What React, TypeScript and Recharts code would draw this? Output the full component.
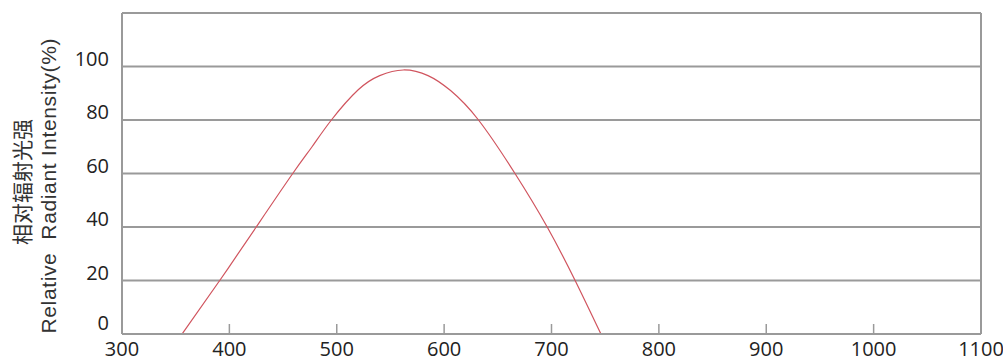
import React from "react";
import { LineChart, Line, XAxis, YAxis, CartesianGrid, ReferenceLine } from "recharts";

// spectrum: wavelength (nm) -> relative intensity (%)
const wavelengths = [356, 391, 425, 459, 477, 495, 520, 540, 562, 585, 606, 632, 666, 696, 722, 746];
const intensity = [0, 20, 40, 60, 70, 80, 91.3, 96.6, 98.7, 96.6, 91, 80, 60, 40, 20, 0];

const xTicks = [300, 400, 500, 600, 700, 800, 900, 1000, 1100];
const yTicks = [0, 20, 40, 60, 80, 100, 120];

const data = wavelengths.map((w, i) => ({ w, v: intensity[i] }));

const GRID = "#9a9a9a";
const DIGITS = "'Open Sans', 'DejaVu Sans', sans-serif";

const XTick = ({ x, y, payload }: any) => (
  <g>
    {payload.value > 300 && payload.value < 1100 && (
      <line x1={x} x2={x} y1={y - 10} y2={y} stroke={GRID} strokeWidth={1.5} />
    )}
    <text x={x} y={y + 22} textAnchor="middle" fontSize={20} fill="#222" fontFamily={DIGITS}>
      {payload.value}
    </text>
  </g>
);

const YTick = ({ x, y, payload }: any) => {
  if (payload.value > 100) return null;
  return (
    <text
      x={x - 13}
      y={y - (payload.value === 0 ? 4 : 1)}
      textAnchor="end"
      fontSize={20}
      fill="#222"
      fontFamily={DIGITS}
    >
      {payload.value}
    </text>
  );
};

const YTitle = () => (
  <g>
    <text
      transform="translate(21,182) rotate(-90)"
      textAnchor="middle"
      dominantBaseline="central"
      fontSize={21}
      fill="#333"
      fontFamily="'Noto Sans CJK SC', sans-serif"
    >
      相对辐射光强
    </text>
    <text
      transform="translate(56,186) rotate(-90)"
      textAnchor="middle"
      fontSize={21}
      fill="#333"
      fontFamily="'Liberation Sans', Arial, sans-serif"
      textLength={295}
      lengthAdjust="spacing"
      style={{ whiteSpace: "pre" }}
    >
      Relative  Radiant Intensity(%)
    </text>
  </g>
);

export default function App() {
  return (
    <div style={{ position: "absolute", left: 0, top: 0, background: "#fff" }}>
      <LineChart width={1003} height={361} data={data} margin={{ top: 13, right: 22, bottom: 0, left: 62 }}>
        <CartesianGrid horizontal vertical={false} stroke={GRID} strokeWidth={2} />
        <XAxis
          dataKey="w"
          type="number"
          domain={[300, 1100]}
          ticks={xTicks}
          interval={0}
          height={27}
          tickSize={0}
          tickMargin={0}
          tickLine={false}
          axisLine={{ stroke: GRID, strokeWidth: 2 }}
          tick={<XTick />}
        />
        <YAxis
          type="number"
          domain={[0, 120]}
          ticks={yTicks}
          interval={0}
          width={60}
          tickSize={0}
          tickMargin={0}
          tickLine={false}
          axisLine={{ stroke: GRID, strokeWidth: 2 }}
          tick={<YTick />}
          label={{ content: <YTitle /> }}
        />
        <ReferenceLine x={1100} stroke={GRID} strokeWidth={2} />
        <Line
          type="natural"
          dataKey="v"
          stroke="#d0545e"
          strokeWidth={1.2}
          dot={false}
          isAnimationActive={false}
        />
      </LineChart>
    </div>
  );
}
